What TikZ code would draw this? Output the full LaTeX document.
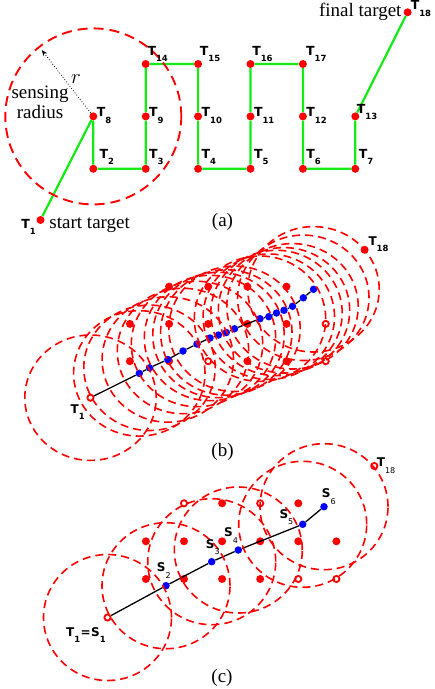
\documentclass[tikz,border=0pt]{standalone}
\usepackage{fontspec}
\setmainfont{Liberation Serif}
\newfontfamily\labelfont{DejaVu Sans}
\usetikzlibrary{arrows.meta}
\definecolor{routegreen}{RGB}{20,235,20}
% letter with a lowered index
\newcommand{\tsub}[2]{#1\raisebox{-6.5bp}{\fontsize{8.5bp}{8.5bp}\selectfont #2}}
\newcommand{\ssub}[2]{#1\raisebox{-6.5bp}{\fontsize{8.5bp}{8.5bp}\selectfont #2}}
\newcommand{\msub}[2]{#1\raisebox{-6.5bp}{\mdseries\fontsize{8bp}{8bp}\selectfont #2}}

\begin{document}
\begin{tikzpicture}[
  x=1bp, y=-1bp,
  tgt/.style={circle, fill=red, inner sep=0pt, minimum size=8bp},
  hollow/.style={circle, draw=red, fill=white, line width=1.8bp, inner sep=0pt, minimum size=6.2bp},
  way/.style={circle, fill=blue, inner sep=0pt, minimum size=7.5bp},
  route/.style={draw=routegreen, line width=2.2bp},
  track/.style={draw=black, line width=1.3bp},
  sense/.style={draw=red, line width=1.6bp, dash pattern=on 8bp off 5bp},
  wide sense/.style={sense, line width=1.9bp, dash pattern=on 10bp off 6bp},
  arrow/.style={dotted, line width=0.8bp, -{Stealth[length=6bp, width=4.5bp]}},
  lab/.style={font=\labelfont\bfseries\fontsize{12.5bp}{12.5bp}\selectfont, inner sep=0pt, anchor=base west},
  labbot/.style={lab, xshift=3.3bp, yshift=10.6bp},
  labmid/.style={lab, xshift=3.3bp, yshift=-0.3bp},
  labtop/.style={lab, xshift=1.6bp, yshift=8.5bp},
  slab/.style={lab, font=\labelfont\bfseries\fontsize{12bp}{12bp}\selectfont},
  note/.style={font=\fontsize{19bp}{20bp}\selectfont, inner sep=0pt}
]
\useasboundingbox (0,0) rectangle (435,689);

% (a) targets and the green route
\node[tgt] (a1) at (40.5,220) {};
\node[tgt] (a2) at (93.3,168.8) {};
\node[tgt] (a3) at (145.7,168.8) {};
\node[tgt] (a4) at (198.1,168.8) {};
\node[tgt] (a5) at (250.5,168.8) {};
\node[tgt] (a6) at (302.9,168.8) {};
\node[tgt] (a7) at (355.3,168.8) {};
\node[tgt] (a8) at (93.3,116.4) {};
\node[tgt] (a9) at (145.7,116.4) {};
\node[tgt] (a10) at (198.1,116.4) {};
\node[tgt] (a11) at (250.5,116.4) {};
\node[tgt] (a12) at (302.9,116.4) {};
\node[tgt] (a13) at (355.3,116.4) {};
\node[tgt] (a14) at (145.7,64) {};
\node[tgt] (a15) at (198.1,64) {};
\node[tgt] (a16) at (250.5,64) {};
\node[tgt] (a17) at (302.9,64) {};
\node[tgt] (a18) at (407.6,12.3) {};

\draw[route] (a1) -- (a8) -- (a2) -- (a3) -- (a9) -- (a14) -- (a15) -- (a10) -- (a4) -- (a5)
  -- (a11) -- (a16) -- (a17) -- (a12) -- (a6) -- (a7) -- (a13) -- (a18);
\draw[wide sense] (a8) circle [radius=88bp];
\coordinate (rtip) at (41.7,50);
\draw[arrow] (a8) -- (rtip);

\node[lab, anchor=base east, xshift=-4.5bp, yshift=-8bp] (l1) at (a1) {\tsub{T}{1}};
\node[labbot, xshift=2.7bp] (l2) at (a2) {\tsub{T}{2}};
\node[labbot] (l3) at (a3) {\tsub{T}{3}};
\node[labbot] (l4) at (a4) {\tsub{T}{4}};
\node[labbot] (l5) at (a5) {\tsub{T}{5}};
\node[labbot] (l6) at (a6) {\tsub{T}{6}};
\node[labbot] (l7) at (a7) {\tsub{T}{7}};
\node[labmid] (l8) at (a8) {\tsub{T}{8}};
\node[labmid] (l9) at (a9) {\tsub{T}{9}};
\node[labmid] (l10) at (a10) {\tsub{T}{10}};
\node[labmid] (l11) at (a11) {\tsub{T}{11}};
\node[labmid] (l12) at (a12) {\tsub{T}{12}};
\node[labmid, xshift=-1.9bp, yshift=3.4bp] (l13) at (a13) {\tsub{T}{13}};
\node[labtop] (l14) at (a14) {\tsub{T}{14}};
\node[labtop] (l15) at (a15) {\tsub{T}{15}};
\node[labtop] (l16) at (a16) {\tsub{T}{16}};
\node[labtop, xshift=1.4bp] (l17) at (a17) {\tsub{T}{17}};
\node[lab, xshift=3bp, yshift=2.3bp] (l18) at (a18) {\tsub{T}{18}};

\node[note, anchor=base east] (final) at (401.7,16.5) {final target};
\node[note, anchor=base west] (start) at (49.3,228.5) {start target};
\node[note, align=center, anchor=base] (sensing) at (40,118.3) {sensing\\radius};
\node[font=\fontsize{20bp}{20bp}\selectfont, inner sep=0pt, anchor=base] (rlab) at (76,83.3) {$r$};
\node[note, anchor=base] (capa) at (222.5,226.7) {(a)};

% (b) many waypoints
\node[hollow] (b1) at (90.5,397.7) {};
\node[tgt] (b2) at (129.9,361.2) {};
\node[tgt] (b3) at (169.1,361.2) {};
\node[hollow] (b4) at (208.2,361.2) {};
\node[tgt] (b5) at (247.4,361.2) {};
\node[tgt] (b6) at (286.5,361.2) {};
\node[hollow] (b7) at (325.7,361.2) {};
\node[tgt] (b8) at (129.9,323.9) {};
\node[tgt] (b9) at (169.1,323.9) {};
\node[tgt] (b10) at (208.2,323.9) {};
\node[tgt] (b11) at (247.4,323.9) {};
\node[tgt] (b12) at (286.5,323.9) {};
\node[hollow] (b13) at (325.7,323.9) {};
\node[tgt] (b14) at (169.1,286.6) {};
\node[tgt] (b15) at (208.2,286.6) {};
\node[tgt] (b16) at (247.4,286.6) {};
\node[tgt] (b17) at (286.5,286.6) {};
\node[tgt] (b18) at (364.6,249.8) {};

\node[way] (w1) at (139.3,373.4) {};
\node[way] (w2) at (149.5,367.8) {};
\node[way] (w3) at (167.8,359.5) {};
\node[way] (w4) at (183,351) {};
\node[way] (w5) at (197,344) {};
\node[way] (w6) at (210,338) {};
\node[way] (w7) at (218.5,335) {};
\node[way] (w8) at (226.3,332.5) {};
\node[way] (w9) at (234.5,328.8) {};
\node[way] (w10) at (260,318.7) {};
\node[way] (w11) at (268.8,316.7) {};
\node[way] (w12) at (276.5,313) {};
\node[way] (w13) at (284,310.3) {};
\node[way] (w14) at (292.5,306.3) {};
\node[way] (w15) at (303.3,297.8) {};
\node[way] (w16) at (313.5,289.3) {};

\draw[track] (b1) -- (w1) -- (w2) -- (w3) -- (w4) -- (w5) -- (w6) -- (w7) -- (w8) -- (w9)
  -- (w10) -- (w11) -- (w12) -- (w13) -- (w14) -- (w15) -- (w16);
\foreach \p in {b1,w1,w2,w3,w4,w5,w6,w7,w8,w9,w10,w11,w12,w13,w14,w15,w16}
  \draw[sense] (\p) ellipse [x radius=65.7bp, y radius=62.7bp];

\node[slab, anchor=base east, xshift=-5.5bp, yshift=-15.6bp] (lb1) at (b1) {\ssub{T}{1}};
\node[slab, xshift=3.7bp, yshift=4.8bp] (lb18) at (b18) {\ssub{T}{18}};
\node[note, anchor=base] (capb) at (222.5,456) {(b)};

% (c) few waypoints
\node[hollow] (c1) at (107.5,617.5) {};
\node[tgt] (c2) at (145.9,579) {};
\node[tgt] (c3) at (184,579) {};
\node[tgt] (c4) at (222.1,579) {};
\node[tgt] (c5) at (260.2,579) {};
\node[hollow] (c6) at (298.3,579) {};
\node[hollow] (c7) at (336.4,579) {};
\node[tgt] (c8) at (145.9,541.3) {};
\node[tgt] (c9) at (184,541.3) {};
\node[tgt] (c10) at (222.1,541.3) {};
\node[tgt] (c11) at (260.2,541.3) {};
\node[tgt] (c12) at (298.3,541.3) {};
\node[tgt] (c13) at (336.4,541.3) {};
\node[hollow] (c14) at (184,503.3) {};
\node[tgt] (c15) at (222.1,503.3) {};
\node[hollow] (c16) at (260.2,503.3) {};
\node[tgt] (c17) at (298.3,503.3) {};
\node[hollow] (c18) at (374.3,466) {};

\node[way] (s2) at (166,585.7) {};
\node[way] (s3) at (211.7,561.7) {};
\node[way] (s4) at (238.3,550) {};
\node[way] (s5) at (302.7,524.3) {};
\node[way] (s6) at (324,506.7) {};

\draw[track] (c1) -- (s2) -- (s3) -- (s4) -- (s5) -- (s6);
\foreach \p in {c1,s2,s3,s4,s5,s6}
  \draw[sense] (\p) ellipse [x radius=64bp, y radius=63bp];

\node[slab, anchor=base east, xshift=-1.5bp, yshift=-18.5bp] (lc1) at (c1) {\ssub{T}{1}\kern0.5bp=\kern0.5bp\ssub{S}{1}};
\node[slab, xshift=-9.3bp, yshift=14bp] (ls2) at (s2) {\msub{S}{2}};
\node[slab, xshift=-6bp, yshift=13.4bp] (ls3) at (s3) {\msub{S}{3}};
\node[slab, xshift=-14.3bp, yshift=13.3bp] (ls4) at (s4) {\msub{S}{4}};
\node[slab, xshift=-23.4bp, yshift=6bp] (ls5) at (s5) {\msub{S}{5}};
\node[slab, xshift=-2.3bp, yshift=9bp] (ls6) at (s6) {\msub{S}{6}};
\node[slab, xshift=2.4bp, yshift=-0.7bp] (lc18) at (c18) {\msub{T}{18}};
\node[note, anchor=base] (capc) at (222,682.7) {(c)};
\end{tikzpicture}
\end{document}
